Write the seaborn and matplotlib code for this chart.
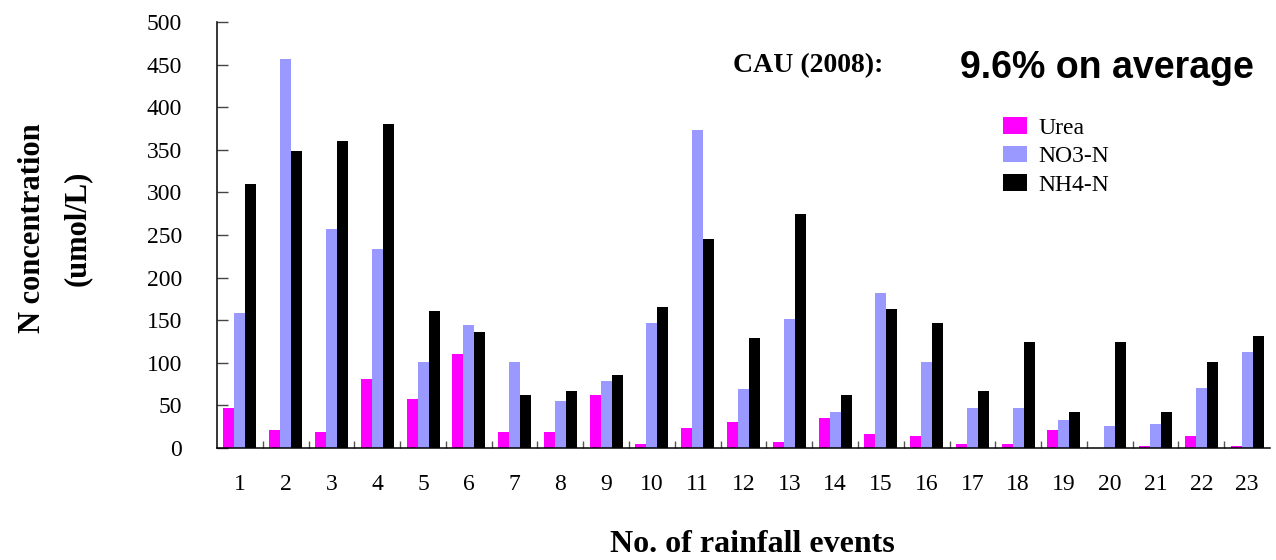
import numpy as np
import pandas as pd
import matplotlib
matplotlib.use("Agg")
import matplotlib.pyplot as plt
import seaborn as sns

# values (umol/L)
events = [str(i) for i in range(1, 24)]
urea = [47, 21, 19, 81, 57, 110, 19, 19, 62, 5, 23, 30, 7, 35, 16, 14, 5, 5, 21, 0, 2, 14, 2]
no3 = [158, 456, 257, 234, 101, 144, 101, 55, 79, 147, 373, 69, 151, 42, 182, 101, 47, 47, 33, 26, 28, 71, 113]
nh4 = [310, 349, 360, 380, 161, 136, 62, 67, 86, 165, 245, 129, 275, 62, 163, 147, 67, 125, 42, 125, 42, 101, 131]
series = ["Urea", "NO3-N", "NH4-N"]
colors = ["#FF00FF", "#9999FF", "#000000"]

df = pd.DataFrame({
    "event": events * 3,
    "value": urea + no3 + nh4,
    "series": np.repeat(series, len(events)),
})

sns.set_style("white")
plt.rcParams["font.family"] = ["Liberation Serif", "DejaVu Serif"]
plt.rcParams.update({"text.color": "black", "axes.labelcolor": "black",
                     "xtick.color": "black", "ytick.color": "black"})

fig = plt.figure(figsize=(12.76, 5.6), dpi=100)
ax = fig.add_axes([217 / 1276, 1 - 448 / 560, 1053 / 1276, 426 / 560])

sns.barplot(data=df, x="event", y="value", hue="series", order=events,
            hue_order=series, palette=colors, width=0.72, gap=0,
            linewidth=0, saturation=1, ax=ax)

ax.set_xlim(-0.5, len(events) - 0.5)
ax.set_ylim(0, 500)
ax.set_yticks(range(0, 501, 50))

for s in ["top", "right"]:
    ax.spines[s].set_visible(False)
for s in ["left", "bottom"]:
    ax.spines[s].set_color("black")
    ax.spines[s].set_linewidth(1.1)

ax.tick_params(axis="y", direction="in", length=8, width=1, color="#444444",
               labelsize=17, pad=25, left=True)
ax.tick_params(axis="x", which="major", length=0, labelsize=17, pad=19)
ax.set_xticks(np.arange(0.5, len(events) - 1, 1), minor=True)
ax.tick_params(axis="x", which="minor", direction="in", length=5, width=1,
               color="#555555", bottom=True)

ax.set_xlabel("")
ax.set_ylabel("")
fig.text(752 / 1276, 1 - 552 / 560, "No. of rainfall events", fontsize=23,
         fontweight="bold", ha="center", va="baseline")
fig.text(55 / 1276, 1 - 228 / 560, "N concentration\n(umol/L)", rotation=90,
         ha="center", va="center", fontsize=22, fontweight="bold", linespacing=1.7)

fig.text(733 / 1276, 1 - 72 / 560, "CAU (2008):", fontsize=20, fontweight="bold",
         ha="left", va="baseline")
fig.text(960 / 1276, 1 - 78 / 560, "9.6% on average", fontsize=27, fontweight="bold",
         family="Liberation Sans", ha="left", va="baseline")

handles, labels = ax.get_legend_handles_labels()
ax.legend(handles, labels, loc="upper left", bbox_to_anchor=(1003 / 1276, 1 - 117 / 560),
          bbox_transform=fig.transFigure, frameon=False, fontsize=17,
          borderaxespad=0, borderpad=0, handlelength=1.0, handleheight=0.7,
          handletextpad=0.5, labelspacing=0.3)

fig.savefig("out.png", dpi=100)
